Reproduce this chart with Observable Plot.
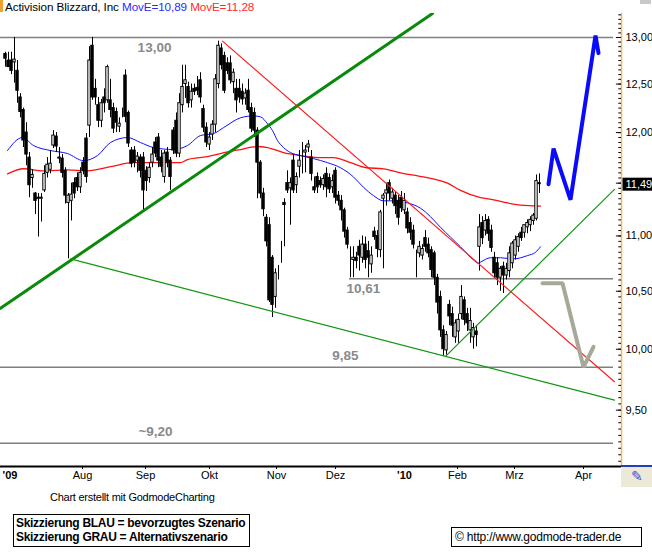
<!DOCTYPE html>
<html><head><meta charset="utf-8">
<script src="https://cdn.jsdelivr.net/npm/d3@7"></script>
<script src="https://cdn.jsdelivr.net/npm/@observablehq/plot@0.6"></script>
<style>
body{margin:0;background:#fff;font-family:"Liberation Sans",Arial,sans-serif;}
#wrap{position:relative;width:652px;height:559px;overflow:hidden;background:#fff;}
#chart{position:absolute;left:0;top:0;}
#title{position:absolute;left:5px;top:0px;font-size:11.7px;line-height:13px;white-space:nowrap;letter-spacing:-0.1px;}
#sq{position:absolute;left:0;top:0;width:3px;height:12px;background:#f0a030;}
#credit{position:absolute;left:50px;top:491px;font-size:11px;white-space:nowrap;letter-spacing:-0.25px;}
#box1{position:absolute;left:13px;top:514px;border:1px solid #000;font-weight:bold;font-size:12px;line-height:13.5px;padding:2px 0 0 2px;box-sizing:border-box;width:237px;height:33px;white-space:nowrap;letter-spacing:-0.3px;}
#box2{position:absolute;left:451px;top:527px;width:191px;height:20px;border:1px solid #000;box-sizing:border-box;font-size:12px;line-height:18px;padding-left:3px;white-space:nowrap;letter-spacing:-0.2px;}
#icon{position:absolute;left:621px;top:465px;width:31px;height:22px;border-top:2px solid #2040c0;background:#ece9d8;box-sizing:border-box;text-align:center;font-size:14px;line-height:19px;color:#1f4fd0;}
#grey{position:absolute;left:640px;top:0;width:11px;height:4px;background:#c8c8c8;}
</style></head><body><div id="wrap">
<div id="chart"></div>
<div id="sq"></div>
<div id="grey"></div>
<div id="title">Activision Blizzard, Inc <span style="color:#2a2aff">MovE=10,89</span> <span style="color:#ff2a2a">MovE=11,28</span></div>
<div id="credit">Chart erstellt mit GodmodeCharting</div>
<div id="box1">Skizzierung BLAU = bevorzugtes Szenario<br>Skizzierung GRAU = Alternativszenario</div>
<div id="box2">© http://www.godmode-trader.de</div>
<div id="icon">✎</div>
</div>
<script>
// ---- candle data (trading-day index = array position) ----
const opens = [
12.82,12.75,12.75,12.73,12.64,12.36,12.23,12.00,11.75,11.55,
11.40,11.36,11.35,11.43,11.60,11.63,11.87,11.96,11.75,11.74,
11.62,11.31,11.33,11.50,11.55,11.46,11.70,11.94,12.07,12.91,
12.45,12.28,12.12,12.36,12.33,12.33,12.25,12.21,12.06,12.21,
12.59,12.20,11.82,11.82,11.72,11.75,11.75,11.62,11.55,11.70,
11.90,11.95,11.75,11.56,11.80,11.72,12.02,12.12,11.79,12.28,
12.50,12.47,12.33,12.45,12.46,12.54,12.24,12.05,11.88,11.98,
12.08,12.50,12.88,12.80,12.72,12.72,12.52,12.45,12.45,12.42,
12.35,12.43,12.25,12.20,12.02,11.70,11.40,11.17,11.10,10.80,
10.45,10.69,10.90,11.31,11.50,11.45,11.72,11.48,11.66,11.75,
11.80,11.85,11.75,11.46,11.56,11.52,11.48,11.59,11.55,11.46,
11.62,11.38,11.33,11.24,11.05,10.75,10.78,10.80,10.90,10.80,
10.92,10.86,10.74,11.04,11.00,10.87,11.35,11.40,11.50,11.35,
11.38,11.33,11.36,11.24,11.22,11.12,11.05,10.82,10.84,10.82,
10.98,10.92,10.87,10.84,10.62,10.45,10.16,9.99,10.38,10.30,
10.10,10.15,10.30,10.42,10.30,10.16,10.10,10.15,10.90,11.12,
11.05,11.15,11.05,10.80,10.75,10.62,10.72,10.64,10.68,10.75,
10.82,10.90,11.03,11.03,11.08,11.10,11.14,11.16,11.50];
const highs = [
12.84,12.84,12.84,13.00,12.75,12.40,12.25,12.10,11.80,11.63,
11.41,11.40,11.40,11.67,11.75,11.82,12.02,12.00,11.85,11.78,
11.65,11.40,11.50,11.55,11.60,11.65,11.75,11.99,12.90,13.00,
12.55,12.36,12.34,12.45,12.70,12.55,12.30,12.25,12.15,12.25,
12.65,12.22,11.85,11.86,11.80,11.78,11.80,11.66,11.70,11.85,
11.95,11.99,11.82,11.82,11.85,11.75,12.05,12.20,12.40,12.70,
12.70,12.52,12.50,12.50,12.58,12.62,12.28,12.10,12.00,12.12,
12.60,12.96,12.93,12.84,12.78,12.80,12.66,12.55,12.55,12.50,
12.45,12.55,12.30,12.25,12.05,11.72,11.45,11.20,11.17,10.82,
10.70,10.73,10.95,11.35,11.62,11.55,11.78,11.60,11.82,11.90,
11.87,11.92,11.82,11.56,11.60,11.56,11.58,11.65,11.59,11.58,
11.65,11.42,11.38,11.26,11.08,10.90,10.90,10.85,10.96,11.00,
10.99,10.95,10.90,11.08,11.05,11.24,11.40,11.50,11.53,11.45,
11.42,11.38,11.42,11.40,11.26,11.17,11.10,10.87,10.95,10.92,
11.05,10.98,10.90,10.86,10.65,10.50,10.20,10.15,10.42,10.36,
10.25,10.30,10.55,10.45,10.35,10.35,10.22,10.20,11.20,11.18,
11.20,11.18,11.10,10.85,10.80,10.72,10.76,10.75,10.90,10.95,
11.00,11.02,11.08,11.10,11.15,11.18,11.21,11.58,11.59];
const lows = [
12.68,12.70,12.60,12.51,12.30,12.15,11.85,11.67,11.36,11.45,
11.20,10.99,11.13,11.41,11.55,11.59,11.84,11.80,11.69,11.55,
11.30,10.79,11.14,11.35,11.42,11.40,11.58,11.50,11.95,12.33,
12.28,12.05,12.05,12.20,12.30,12.15,11.99,12.00,12.00,12.15,
12.10,11.85,11.65,11.65,11.60,11.55,11.24,11.42,11.50,11.65,
11.75,11.65,11.60,11.50,11.65,11.43,11.78,11.75,11.75,12.20,
12.35,12.25,12.25,12.38,12.38,12.30,12.00,11.85,11.82,11.92,
12.00,12.45,12.65,12.40,12.60,12.50,12.40,12.20,12.30,12.28,
12.28,12.20,12.00,11.95,11.35,11.35,11.18,10.90,10.40,10.27,
10.35,10.60,10.75,10.90,11.40,11.10,11.40,11.40,11.55,11.59,
11.60,11.80,11.52,11.40,11.40,11.45,11.43,11.36,11.40,11.40,
11.30,11.28,11.14,10.98,10.88,10.62,10.62,10.70,10.68,10.75,
10.70,10.62,10.66,10.96,10.80,10.80,10.70,11.28,11.33,11.30,
11.20,11.10,11.22,11.20,11.02,10.96,10.88,10.62,10.80,10.78,
10.85,10.80,10.62,10.55,10.30,10.10,9.94,9.95,10.20,10.10,
10.05,10.05,10.25,10.20,10.15,10.05,10.00,10.02,10.68,10.92,
11.00,10.95,10.85,10.62,10.55,10.50,10.48,10.60,10.62,10.70,
10.78,10.85,10.95,10.98,11.02,11.04,11.10,11.14,11.40];
const closes = [
12.77,12.68,12.64,12.76,12.43,12.21,11.92,11.78,11.48,11.58,
11.33,11.35,11.36,11.59,11.68,11.69,11.97,11.86,11.74,11.60,
11.38,11.38,11.39,11.40,11.46,11.60,11.62,11.56,12.75,12.36,
12.36,12.12,12.30,12.30,12.68,12.23,12.04,12.10,12.09,12.21,
12.16,11.89,11.69,11.70,11.76,11.62,11.43,11.52,11.65,11.78,
11.79,11.72,11.66,11.79,11.70,11.56,11.82,11.79,12.30,12.47,
12.54,12.30,12.42,12.42,12.43,12.36,12.05,11.90,11.95,12.08,
12.55,12.91,12.70,12.43,12.64,12.54,12.62,12.33,12.36,12.34,
12.40,12.23,12.04,12.02,11.70,11.40,11.25,10.95,10.42,10.38,
10.66,10.69,10.90,11.29,11.43,11.50,11.43,11.56,11.72,11.75,
11.82,11.88,11.59,11.43,11.46,11.48,11.54,11.46,11.44,11.52,
11.36,11.33,11.24,11.04,10.92,10.75,10.80,10.77,10.82,10.92,
10.78,10.80,10.82,10.99,10.88,11.22,11.38,11.43,11.40,11.41,
11.28,11.17,11.26,11.33,11.07,11.03,10.92,10.82,10.90,10.88,
10.90,10.84,10.69,10.62,10.40,10.16,10.00,10.12,10.28,10.20,
10.22,10.25,10.45,10.25,10.22,10.24,10.18,10.12,11.08,10.98,
11.14,11.02,10.89,10.66,10.62,10.70,10.64,10.70,10.84,10.93,
10.96,10.99,10.98,11.10,11.12,11.15,11.19,11.52,11.49];

// ---- moving averages (x = trading-day index) ----
const blueMaX = [0.67,5.67,9.33,15,20.67,26,30.67,35,40.67,45,49.33,56,60.67,65,69.33,72.67,78.33,82.67,85,87.33,89,90.67,92.67,95,98.33,102.67,107.33,111.67,116,119.33,122.67,126,129.33,134,138.33,141.67,145,148.33,151.67,156,157.67,158.33,161.67,165,169.33,174,176.67,178.33];
const blueMaY = [11.82,11.95,11.87,11.82,11.79,11.72,11.77,11.90,11.95,11.90,11.85,11.83,11.87,11.97,11.99,12.05,12.15,12.17,12.16,12.09,12.02,11.92,11.85,11.80,11.77,11.74,11.70,11.65,11.56,11.46,11.38,11.33,11.33,11.31,11.26,11.18,11.08,10.99,10.90,10.78,10.75,10.76,10.80,10.80,10.79,10.82,10.85,10.90];
const redMaX = [0.67,6,12.67,20.67,27.33,35,42.67,51.67,58.33,60.67,67.33,71.67,78.33,83.67,87.33,92.67,98.33,104,109.33,115,120.33,126,131.67,139.33,147.33,151.67,158.33,162.67,167.33,171.67,178.33];
const redMaY = [11.59,11.64,11.62,11.63,11.62,11.66,11.70,11.70,11.70,11.73,11.76,11.79,11.83,11.86,11.85,11.80,11.77,11.75,11.75,11.70,11.65,11.64,11.60,11.56,11.50,11.43,11.36,11.34,11.31,11.29,11.28];

// ---- horizontal levels ----
const levelValues = [13.00, 10.61, 9.85, 9.24];
const levelStart  = [-1.67, 114.67, -1.67, -1.67];
const levelEnd    = [202.67, 202.67, 202.67, 202.67];
const levelLabels = ["13,00", "10,61", "9,85", "~9,20"];
const levelLabelX = [49.67, 119.33, 113.33, 50];

// ---- trend lines (x index, price) ----
const greenThickX = [-1.67, 142.33], greenThickY = [10.35, 13.265];
const greenLowX = [21.67, 203], greenLowY = [10.79, 9.58];
const greenTriX = [146.67, 203], greenTriY = [9.94, 11.44];
const redTrendX = [72.33, 203], redTrendY = [12.96, 9.73];

// ---- scenario sketches ----
const blueSketchX = [181, 182.67, 188.33, 196.67, 197.67];
const blueSketchY = [11.49, 11.84, 11.34, 13.02, 12.83];
const greySketchX = [179, 185.67, 192.67, 196];
const greySketchY = [10.57, 10.57, 9.85, 10.02];

// ---- axes ----
const monthPos = [25.67, 46.67, 68, 90.33, 110, 150.67, 169.67, 192.67];
const monthLabels = ["Aug", "Sep", "Okt", "Nov", "Dez", "Feb", "Mrz", "Apr"];
const yearPos = [1.5, 133];
const yearLabels = ["'09", "'10"];
const yTicks = [9.5, 10, 10.5, 11, 11.5, 12, 12.5, 13];
const lastPrice = 11.49;

const X0 = -5/3, X1 = 616/3;
const rows = closes.map((c, i) => ({i, o: opens[i], h: highs[i], l: lows[i], c}));
const zip = (xs, ys) => xs.map((x, k) => ({x, y: ys[k]}));
const levels = levelValues.map((v, k) => ({v, x1: levelStart[k], x2: levelEnd[k], label: levelLabels[k], lx: levelLabelX[k]}));
const minorTicks = d3.range(182, 266).map(k => k / 20);
const fmt = d => d.toFixed(2).replace(".", ",");
const mLab = new Map(monthPos.map((p, k) => [p, monthLabels[k]]));
const yLab = new Map(yearPos.map((p, k) => [p, yearLabels[k]]));
const lineOpts = {x: "x", y: "y", clip: true};

const chart = Plot.plot({
  width: 652, height: 490,
  marginTop: 13, marginBottom: 24, marginLeft: 0, marginRight: 31,
  x: {type: "linear", domain: [X0, X1]},
  y: {type: "log", domain: [9.06, 13.265], axis: null},
  style: {fontFamily: "'Liberation Sans', Arial, sans-serif", fontSize: "11px", background: "white", overflow: "visible", color: "black"},
  marks: [
    Plot.ruleY(levels, {y: "v", x1: "x1", x2: "x2", stroke: "#808080", strokeWidth: 1.5}),
    Plot.text(levels.filter(d => d.v > 10.5), {x: "lx", y: "v", text: "label", dy: 10, fill: "#8a8a8a", fontWeight: "bold", fontSize: 13.5}),
    Plot.text(levels.filter(d => d.v < 10.5), {x: "lx", y: "v", text: "label", dy: -11, fill: "#8a8a8a", fontWeight: "bold", fontSize: 13.5}),
    Plot.line(zip(redMaX, redMaY), {...lineOpts, stroke: "#ff1010", strokeWidth: 1.3, curve: "monotone-x"}),
    Plot.line(zip(blueMaX, blueMaY), {...lineOpts, stroke: "#1010ff", strokeWidth: 1, curve: "monotone-x"}),
    Plot.ruleX(rows, {x: "i", y1: "l", y2: "h", stroke: "black", strokeWidth: 1}),
    Plot.rect(rows, {x1: d => d.i - 0.4, x2: d => d.i + 0.4, y1: d => Math.min(d.o, d.c), y2: d => Math.max(d.o, d.c),
      fill: d => d.c > d.o ? "white" : "black", stroke: "black", strokeWidth: 1}),
    Plot.line(zip(greenThickX, greenThickY), {...lineOpts, stroke: "#0a8a0a", strokeWidth: 3}),
    Plot.line(zip(greenLowX, greenLowY), {...lineOpts, stroke: "#129612", strokeWidth: 1.2}),
    Plot.line(zip(greenTriX, greenTriY), {...lineOpts, stroke: "#129612", strokeWidth: 1.2}),
    Plot.line(zip(redTrendX, redTrendY), {...lineOpts, stroke: "#ff1a1a", strokeWidth: 1.1}),
    Plot.line(zip(greySketchX, greySketchY), {...lineOpts, stroke: "#a8a898", strokeWidth: 4, strokeLinejoin: "miter"}),
    Plot.line(zip(blueSketchX, blueSketchY), {...lineOpts, stroke: "#0a0aff", strokeWidth: 4, strokeLinejoin: "miter"}),
    // right axis
    Plot.ruleX([X1], {stroke: "#f2b84b", strokeWidth: 1.5}),
    Plot.ruleY(minorTicks, {y: d => d, x1: X1 - 0.9, x2: X1, stroke: "black", strokeWidth: 1}),
    Plot.ruleY(yTicks, {y: d => d, x1: X1 - 1.7, x2: X1, stroke: "black", strokeWidth: 1}),
    Plot.text(yTicks, {y: d => d, frameAnchor: "right", dx: 4, textAnchor: "start", text: fmt, fontSize: 11}),
    Plot.ruleY([lastPrice], {x1: X1 + 0.5, x2: X1 + 11, stroke: "black", strokeWidth: 13}),
    Plot.text([lastPrice], {y: d => d, frameAnchor: "right", dx: 4, textAnchor: "start", text: fmt, fill: "white", fontSize: 11}),
    // x axis
    Plot.ruleY([9.06], {stroke: "black", strokeWidth: 2}),
    Plot.axisX(monthPos, {tickFormat: d => mLab.get(d), tickSize: 3, tickPadding: 2, fontSize: 11}),
    Plot.axisX(yearPos, {tickFormat: d => yLab.get(d), tickSize: 0, tickPadding: 5, fontSize: 11, fontWeight: "bold"})
  ]
});
document.getElementById("chart").appendChild(chart);
</script>
</body></html>
